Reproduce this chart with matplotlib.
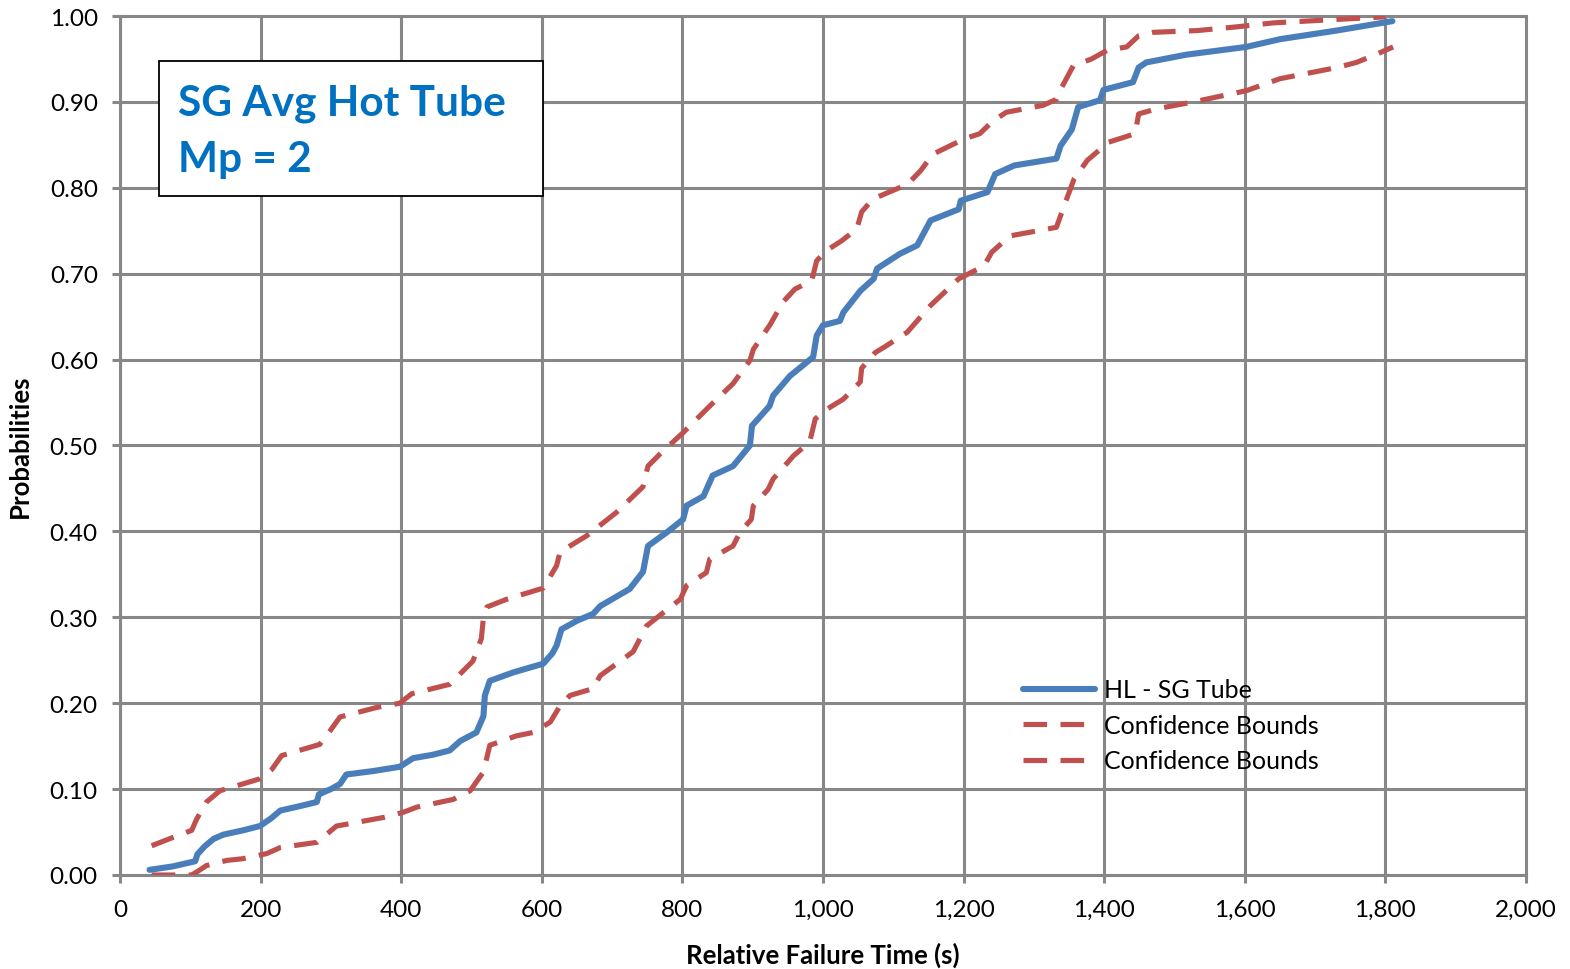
import matplotlib
matplotlib.use("Agg")
import matplotlib.pyplot as plt
from matplotlib.patches import Rectangle
from matplotlib.ticker import FuncFormatter, MultipleLocator

plt.rcParams['font.family'] = ['Lato', 'DejaVu Sans']

# Failure-time distribution (relative failure time, cumulative probability)
hl_time = [42, 75, 107, 110, 120, 133, 147, 175, 199, 215, 228, 255, 280, 283,
           300, 313, 322, 360, 398, 417, 445, 469, 484, 507, 517, 519, 526, 560,
           602, 615, 621, 628, 650, 673, 683, 725, 744, 751, 778, 801, 806, 830,
           843, 872, 896, 899, 924, 929, 953, 986, 991, 1000, 1024, 1029, 1053,
           1072, 1077, 1109, 1134, 1153, 1193, 1196, 1234, 1245, 1272, 1332,
           1338, 1354, 1363, 1394, 1399, 1441, 1449, 1460, 1517, 1602, 1650,
           1730, 1810]
hl_prob = [0.006, 0.010, 0.016, 0.024, 0.033, 0.042, 0.047, 0.052, 0.057, 0.066,
           0.075, 0.080, 0.085, 0.094, 0.100, 0.106, 0.117, 0.121, 0.126, 0.136,
           0.140, 0.145, 0.156, 0.166, 0.185, 0.209, 0.226, 0.236, 0.246, 0.258,
           0.267, 0.286, 0.296, 0.304, 0.313, 0.333, 0.353, 0.383, 0.399, 0.414,
           0.430, 0.441, 0.465, 0.476, 0.500, 0.523, 0.546, 0.558, 0.581, 0.603,
           0.628, 0.640, 0.645, 0.655, 0.680, 0.694, 0.706, 0.723, 0.733, 0.762,
           0.775, 0.785, 0.795, 0.816, 0.826, 0.834, 0.849, 0.868, 0.894, 0.902,
           0.914, 0.923, 0.940, 0.946, 0.955, 0.964, 0.973, 0.983, 0.994]

upper_time = [45, 73, 102, 109, 123, 142, 199, 216, 230, 284, 299, 313, 365, 398,
              415, 469, 502, 514, 517, 522, 550, 602, 621, 626, 664, 706, 744, 751,
              768, 801, 839, 872, 896, 901, 925, 943, 960, 984, 991, 1005, 1026,
              1048, 1055, 1071, 1120, 1139, 1156, 1201, 1223, 1242, 1261, 1313,
              1332, 1337, 1356, 1382, 1404, 1432, 1449, 1470, 1532, 1584, 1641,
              1731, 1800]
upper_prob = [0.034, 0.043, 0.052, 0.065, 0.085, 0.098, 0.112, 0.123, 0.139, 0.152,
              0.168, 0.184, 0.195, 0.200, 0.211, 0.222, 0.249, 0.275, 0.300, 0.312,
              0.321, 0.334, 0.360, 0.376, 0.395, 0.422, 0.452, 0.476, 0.490, 0.515,
              0.546, 0.572, 0.599, 0.612, 0.641, 0.667, 0.682, 0.692, 0.715, 0.727,
              0.738, 0.752, 0.772, 0.787, 0.804, 0.820, 0.839, 0.857, 0.863, 0.878,
              0.888, 0.896, 0.903, 0.913, 0.942, 0.950, 0.960, 0.964, 0.977, 0.981,
              0.983, 0.987, 0.992, 0.996, 0.999]

lower_time = [45, 73, 102, 110, 123, 152, 175, 209, 228, 280, 308, 375, 403, 422,
              474, 498, 517, 526, 564, 588, 612, 626, 640, 673, 683, 730, 749, 797,
              806, 834, 839, 872, 882, 898, 901, 922, 929, 958, 981, 989, 1005,
              1029, 1053, 1055, 1074, 1090, 1120, 1153, 1193, 1229, 1240, 1266,
              1332, 1343, 1357, 1376, 1406, 1444, 1449, 1475, 1527, 1602, 1650,
              1731, 1759, 1783, 1811]
lower_prob = [0.000, 0.000, 0.000, 0.004, 0.011, 0.017, 0.019, 0.025, 0.032, 0.038,
              0.057, 0.067, 0.073, 0.079, 0.088, 0.098, 0.120, 0.151, 0.162, 0.166,
              0.178, 0.197, 0.209, 0.217, 0.232, 0.260, 0.290, 0.321, 0.337, 0.352,
              0.368, 0.383, 0.399, 0.414, 0.430, 0.449, 0.461, 0.488, 0.504, 0.531,
              0.542, 0.554, 0.574, 0.590, 0.608, 0.616, 0.632, 0.663, 0.694, 0.709,
              0.725, 0.744, 0.754, 0.779, 0.810, 0.832, 0.853, 0.863, 0.886, 0.892,
              0.900, 0.913, 0.927, 0.940, 0.946, 0.954, 0.964]

BLUE = '#4A7EBB'
RED = '#C0504D'
GRID = '#878787'

fig = plt.figure(figsize=(15.7, 9.7), dpi=100)
ax = fig.add_axes([120 / 1570, 94 / 970, 1406 / 1570, 859 / 970])

ax.plot(hl_time, hl_prob, color=BLUE, lw=4.4, solid_capstyle='round',
        solid_joinstyle='round', label='HL - SG Tube', zorder=4)
ax.plot(upper_time, upper_prob, color=RED, lw=3.7, dashes=(4.6, 2.6),
        dash_capstyle='butt', label='Confidence Bounds', zorder=3)
ax.plot(lower_time, lower_prob, color=RED, lw=3.7, dashes=(4.6, 2.6),
        dash_capstyle='butt', label='Confidence Bounds', zorder=3)

ax.set_xlim(0, 2000)
ax.set_ylim(0, 1.0)
ax.xaxis.set_major_locator(MultipleLocator(200))
ax.yaxis.set_major_locator(MultipleLocator(0.1))
ax.xaxis.set_major_formatter(FuncFormatter(lambda v, p: f'{int(round(v)):,}'))
ax.yaxis.set_major_formatter(FuncFormatter(lambda v, p: f'{v:.2f}'))

ax.grid(True, color=GRID, lw=2.2, zorder=0)
ax.set_axisbelow(True)
for s in ax.spines.values():
    s.set_color(GRID)
    s.set_linewidth(2.2)
ax.tick_params(axis='both', colors=GRID, width=2.2, length=6, labelsize=17.5,
               labelcolor='black')
ax.tick_params(axis='y', pad=10)
ax.tick_params(axis='x', pad=11)

ax.set_xlabel('Relative Failure Time (s)', fontsize=18.5, fontweight='bold')
ax.set_ylabel('Probabilities', fontsize=18.5, fontweight='bold')
ax.xaxis.set_label_coords(0.5, -0.092)
ax.yaxis.set_label_coords(-0.071, 0.5)
ax.xaxis.label.set_va('center')
ax.yaxis.label.set_va('center')

# Annotation box with case description
box = Rectangle((0.0277, 0.790), 0.2733, 0.158, transform=ax.transAxes,
                facecolor='white', edgecolor='black', lw=1.3, zorder=5)
ax.add_patch(box)
ax.text(0.0413, 0.899, 'SG Avg Hot Tube', transform=ax.transAxes, fontsize=30.5,
        fontweight='bold', color='#0070C0', va='center', ha='left', zorder=6)
ax.text(0.0413, 0.833, 'Mp = 2', transform=ax.transAxes, fontsize=30.5,
        fontweight='bold', color='#0070C0', va='center', ha='left', zorder=6)

leg = ax.legend(loc='upper left', bbox_to_anchor=(0.642, 0.229), frameon=False,
                fontsize=18, handlelength=2.9, handletextpad=0.35,
                labelspacing=0.5, borderpad=0, borderaxespad=0)

fig.savefig('out.png', dpi=100)
